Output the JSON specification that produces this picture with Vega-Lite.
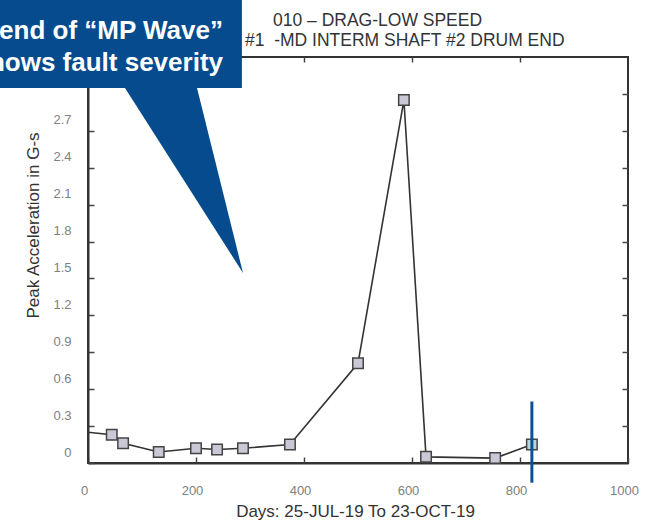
{
  "$schema": "https://vega.github.io/schema/vega-lite/v6.json",
  "width": 540,
  "height": 406,
  "autosize": {"type": "none"},
  "padding": {"left": 88, "top": 57, "right": 28, "bottom": 60},
  "background": "white",
  "config": {
    "font": "Liberation Sans",
    "view": {"stroke": "#333333", "strokeWidth": 2}
  },
  "datasets": {
    "trend": [
      {"x": 0, "y": 0.25},
      {"x": 44, "y": 0.23},
      {"x": 65, "y": 0.16},
      {"x": 131, "y": 0.09},
      {"x": 200, "y": 0.12},
      {"x": 239, "y": 0.11},
      {"x": 287, "y": 0.12},
      {"x": 374, "y": 0.15},
      {"x": 500, "y": 0.81},
      {"x": 585, "y": 2.95},
      {"x": 626, "y": 0.05},
      {"x": 754, "y": 0.04},
      {"x": 822, "y": 0.15}
    ],
    "marker": [{"x": 822, "y": 0.5, "y2": -0.16}],
    "box": [{"x": -163, "x2": 285, "y": 3.049, "y2": 3.764}],
    "pointer": [
      {"x": 68.5, "x2": 201.9, "y": 3.049},
      {"x": 287, "x2": 287, "y": 1.545}
    ],
    "callout": [
      {"x": 250, "y": 3.445, "label": "end of “MP Wave”"},
      {"x": 250, "y": 3.185, "label": "hows fault severity"}
    ],
    "header": [
      {"x": 342.6, "y": 3.553, "label": "010 – DRAG-LOW SPEED"},
      {"x": 290.7, "y": 3.39, "label": "#1\u00a0\u00a0-MD INTERM SHAFT #2 DRUM END"}
    ]
  },
  "layer": [
    {
      "layer": [
        {
          "data": {"name": "trend"},
          "mark": {"type": "line", "color": "#333333", "strokeWidth": 1.6},
          "encoding": {
            "x": {
              "field": "x", "type": "quantitative",
              "scale": {"domain": [0, 1000], "nice": false, "zero": false},
              "axis": {
                "orient": "bottom",
                "values": [0, 200, 400, 600, 800, 1000],
                "format": "d",
                "title": "Days: 25-JUL-19 To 23-OCT-19",
                "titleFontSize": 17, "titleFontWeight": "normal", "titleColor": "#333333",
                "titleX": 267, "titleY": 53, "titleBaseline": "alphabetic", "titleAlign": "center",
                "labelFontSize": 13, "labelColor": "#808080", "labelFlush": false,
                "labelOffset": -4, "labelPadding": 27,
                "tickSize": -6, "tickColor": "#444444", "tickWidth": 1.5,
                "domainColor": "#333333", "domainWidth": 2, "grid": false
              }
            },
            "y": {
              "field": "y", "type": "quantitative",
              "scale": {"domain": [0, 3.3], "nice": false, "zero": false},
              "axis": {
                "orient": "left",
                "values": [0, 0.3, 0.6, 0.9, 1.2, 1.5, 1.8, 2.1, 2.4, 2.7],
                "format": ".1~f",
                "title": "Peak Acceleration in G-s",
                "titleFontSize": 17, "titleFontWeight": "normal", "titleColor": "#333333",
                "titleX": -55, "titleY": 168, "titleBaseline": "middle", "titleAlign": "center", "titleAngle": -90,
                "labelFontSize": 13, "labelColor": "#808080", "labelFlush": false,
                "labelOffset": -11, "labelPadding": 23,
                "tickSize": -6, "tickColor": "#444444", "tickWidth": 1.5,
                "domainColor": "#333333", "domainWidth": 2, "grid": false
              }
            }
          }
        },
        {
          "data": {"name": "trend"},
          "transform": [{"filter": "datum.x > 0"}],
          "mark": {"type": "point", "shape": "square", "size": 110, "filled": false, "stroke": "#444444", "strokeWidth": 1.5, "opacity": 1},
          "encoding": {
            "x": {"field": "x", "type": "quantitative"},
            "y": {"field": "y", "type": "quantitative"},
            "fill": {"condition": {"test": "datum.x > 800", "value": "#b9d7d7"}, "value": "#c8c8d6"}
          }
        },
        {
          "data": {"name": "marker"},
          "mark": {"type": "rule", "color": "#0a4f9c", "strokeWidth": 3},
          "encoding": {
            "x": {"field": "x", "type": "quantitative"},
            "y": {"field": "y", "type": "quantitative"},
            "y2": {"field": "y2"}
          }
        },
        {
          "data": {"name": "box"},
          "mark": {"type": "rect", "color": "#054b8e"},
          "encoding": {
            "x": {"field": "x", "type": "quantitative"},
            "x2": {"field": "x2"},
            "y": {"field": "y", "type": "quantitative"},
            "y2": {"field": "y2"}
          }
        },
        {
          "data": {"name": "pointer"},
          "mark": {"type": "area", "orient": "horizontal", "color": "#054b8e", "opacity": 1},
          "encoding": {
            "y": {"field": "y", "type": "quantitative"},
            "x": {"field": "x", "type": "quantitative"},
            "x2": {"field": "x2"}
          }
        },
        {
          "data": {"name": "callout"},
          "mark": {"type": "text", "align": "right", "baseline": "alphabetic", "fontSize": 26, "fontWeight": "bold", "color": "white"},
          "encoding": {
            "x": {"field": "x", "type": "quantitative"},
            "y": {"field": "y", "type": "quantitative"},
            "text": {"field": "label"}
          }
        },
        {
          "data": {"name": "header"},
          "mark": {"type": "text", "align": "left", "baseline": "alphabetic", "fontSize": 17.5, "color": "#333333"},
          "encoding": {
            "x": {"field": "x", "type": "quantitative"},
            "y": {"field": "y", "type": "quantitative"},
            "text": {"field": "label"}
          }
        }
      ]
    },
    {
      "data": {"name": "trend"},
      "mark": {"type": "point", "opacity": 0},
      "encoding": {
        "x": {
          "field": "x", "type": "quantitative",
          "axis": {"orient": "top", "values": [200, 400, 600, 800], "labels": false, "title": null,
                   "tickSize": -5, "tickColor": "#444444", "tickWidth": 1.5, "domain": false, "grid": false}
        },
        "y": {
          "field": "y", "type": "quantitative",
          "axis": {"orient": "right", "values": [0.3, 0.6, 0.9, 1.2, 1.5, 1.8, 2.1, 2.4, 2.7, 3.0], "labels": false, "title": null,
                   "tickSize": -6, "tickColor": "#444444", "tickWidth": 1.5, "domain": false, "grid": false}
        }
      }
    }
  ],
  "resolve": {"axis": {"x": "independent", "y": "independent"}}
}
